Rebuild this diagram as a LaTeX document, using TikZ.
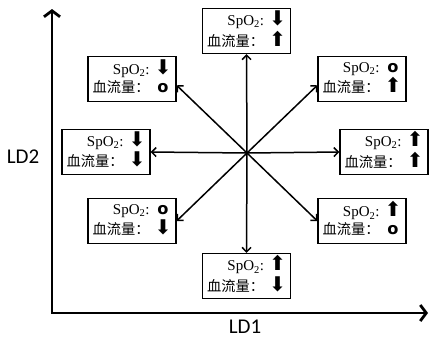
\documentclass[tikz,border=0pt]{standalone}
\usepackage{fontspec}
\setmainfont{Liberation Serif}
\newfontfamily\cjk{Noto Sans CJK SC}[Scale=0.95]
\newfontfamily\sym{DejaVu Sans}[Scale=1.35]
\newfontfamily\lab{Carlito}
\usetikzlibrary{arrows.meta}
\usetikzlibrary{positioning}

\newcommand{\dn}{{\sym ⬇}}
\newcommand{\up}{{\sym ⬆}}
\newcommand{\zr}{{\sym\bfseries\fontsize{12}{12}\selectfont o}}
\newcommand{\state}[2]{\begin{tabular}{@{}r@{\hspace{5pt}}c@{}}SpO\textsubscript{2}: & #1\\ {\cjk 血流量：} & #2\end{tabular}}

\begin{document}
\begin{tikzpicture}[
  x=1pt, y=-1pt,
  statebox/.style = {draw, line width=1.2pt, minimum width=88pt, minimum height=45pt, inner sep=2pt, font=\fontsize{15}{18}\selectfont},
  axis/.style = {line width=2.8pt, line join=miter, {Straight Barb[length=6pt,width=16pt]}-{Straight Barb[length=6pt,width=16pt]}},
  ray/.style = {line width=1.5pt, -{Straight Barb[length=4.5pt,width=9pt]}},
  axislabel/.style = {font=\lab\fontsize{21}{21}\selectfont}
  ]
  \useasboundingbox (0,0) rectangle (430,338);

  % axes
  \coordinate (ytip) at (52,9);
  \coordinate (xtip) at (428,313);
  \draw[axis] (ytip) |- (xtip);
  \node[axislabel] (ld1) at (245,327) {LD1};
  \node[axislabel] (ld2) at (23,157) {LD2};

  \coordinate (o) at (247,153);

  \node[statebox] (n)  at (246.5,31) {\state{\dn}{\up}};
  \node[statebox] (nw) at (132,79)   {\state{\dn}{\zr}};
  \node[statebox] (ne) at (362,79)   {\state{\zr}{\up}};
  \node[statebox] (w)  at (106,152)  {\state{\dn}{\dn}};
  \node[statebox] (e)  at (384,152)  {\state{\up}{\up}};
  \node[statebox] (sw) at (132,221)  {\state{\zr}{\dn}};
  \node[statebox] (se) at (362,221)  {\state{\up}{\zr}};
  \node[statebox] (s)  at (246.5,276) {\state{\up}{\dn}};

  \foreach \t/\a in {n/south, s/north, w/east, e/west, nw/-8, ne/188, sw/east, se/west}
    \draw[ray] (o) -- (\t.\a);
\end{tikzpicture}
\end{document}
